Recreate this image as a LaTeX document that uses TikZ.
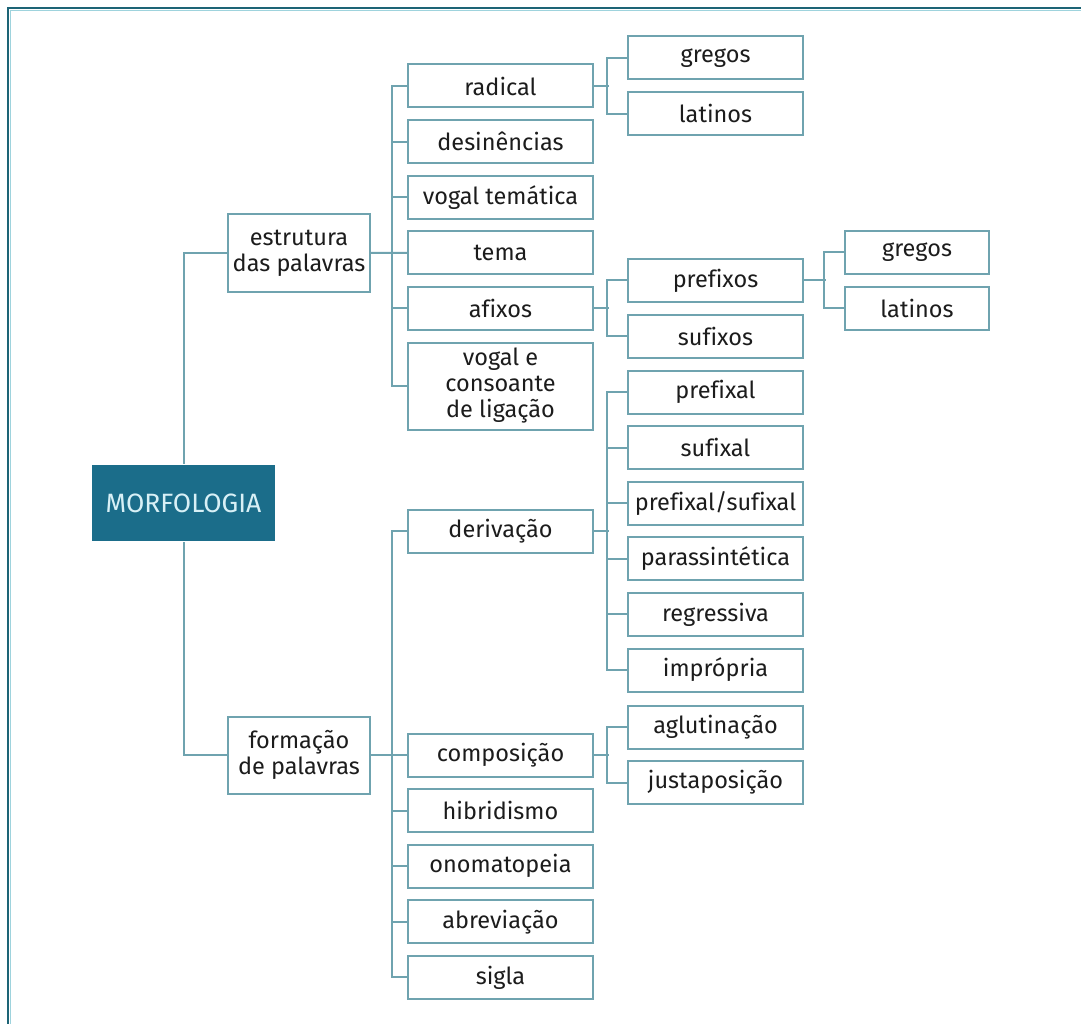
\documentclass[tikz,border=0pt]{standalone}
\usepackage{fontspec}
\setmainfont[Ligatures=NoCommon]{Fira Sans}
\usetikzlibrary{positioning,calc}
\definecolor{boxline}{HTML}{6FA3AF}
\definecolor{morfblue}{HTML}{1B6D8A}
\definecolor{morftext}{HTML}{D8F0F6}
\definecolor{txtgray}{HTML}{1C1C1C}
\definecolor{framedark}{HTML}{1D6476}
\definecolor{framelight}{HTML}{9ED3DD}

\begin{document}
\begin{tikzpicture}[x=1pt, y=-1pt, font=\fontsize{23.5}{26}\selectfont, node distance=10.6pt,
  box/.style={draw=boxline, line width=2pt, fill=white, text=txtgray, align=center, minimum height=43pt, inner sep=3pt},
  wbox/.style={box, minimum width=185pt},
  mbox/.style={box, minimum width=175pt},
  sbox/.style={box, minimum width=144pt},
  link/.style={draw=boxline, line width=2pt}]
  \useasboundingbox (0,0) rectangle (1081,1024);
  % frame
  \draw[framedark, line width=2pt] (8,1024) -- (8,8) -- (1081,8);
  \draw[framelight, line width=1pt] (10.5,1024) -- (10.5,10.5) -- (1081,10.5);
  % root and main branches
  \node[box, fill=morfblue, draw=none, text=morftext, font=\fontsize{26.5}{30}\selectfont, minimum width=183pt, minimum height=76pt] (morf) at (183.5,503) {MORFOLOGIA};
  \node[box, minimum width=142pt, minimum height=77pt] (estr) at (299,253) {estrutura\\das palavras};
  \node[box, minimum width=142pt, minimum height=77pt] (form) at (299,755) {formação\\de palavras};
  % estrutura das palavras
  \node[wbox] (radical) at (500.5,86) {radical};
  \node[wbox, below=of radical] (desin) {desinências};
  \node[wbox, below=of desin] (vtema) {vogal temática};
  \node[wbox, below=of vtema] (tema) {tema};
  \node[wbox, below=of tema] (afixos) {afixos};
  \node[wbox, below=of afixos, minimum height=87pt] (ligacao) {vogal e\\consoante\\de ligação};
  \node[mbox] (gregosA) at (715.5,58) {gregos};
  \node[mbox, below=of gregosA] (latinosA) {latinos};
  \node[mbox] (prefixos) at (715.5,280.5) {prefixos};
  \node[mbox, below=of prefixos] (sufixos) {sufixos};
  \node[sbox] (gregosB) at (917,252.5) {gregos};
  \node[sbox, below=of gregosB] (latinosB) {latinos};
  % formação de palavras
  \node[wbox] (deriv) at (500.5,531) {derivação};
  \node[wbox] (compos) at (500.5,755) {composição};
  \node[wbox, below=of compos] (hibrid) {hibridismo};
  \node[wbox, below=of hibrid] (onomat) {onomatopeia};
  \node[wbox, below=of onomat] (abrev) {abreviação};
  \node[wbox, below=of abrev] (sigla) {sigla};
  \node[mbox] (prefixal) at (715.5,392) {prefixal};
  \node[mbox, below=of prefixal] (sufixal) {sufixal};
  \node[mbox, below=of sufixal] (prefsuf) {prefixal/sufixal};
  \node[mbox, below=of prefsuf] (parass) {parassintética};
  \node[mbox, below=of parass] (regress) {regressiva};
  \node[mbox, below=of regress] (impropria) {imprópria};
  \node[mbox] (aglut) at (715.5,727) {aglutinação};
  \node[mbox, below=of aglut] (justap) {justaposição};
  % links
  \draw[link] (estr.west) -| (morf.north);
  \draw[link] (form.west) -| (morf.south);
  \draw[link] (estr.east) -- (tema.west);
  \draw[link] (radical.west) -- ++(-15,0) |- (ligacao.west);
  \foreach \n in {desin,vtema,afixos} \draw[link] (\n.west) -- ++(-15,0);
  \draw[link] (radical.east) -- ++(15,0);
  \draw[link] (gregosA.west) -- ++(-20,0) |- (latinosA.west);
  \draw[link] (afixos.east) -- ++(15,0);
  \draw[link] (prefixos.west) -- ++(-20,0) |- (sufixos.west);
  \draw[link] (prefixos.east) -- ++(22,0);
  \draw[link] (gregosB.west) -- ++(-20,0) |- (latinosB.west);
  \draw[link] (form.east) -- (compos.west);
  \draw[link] (deriv.west) -- ++(-15,0) |- (sigla.west);
  \foreach \n in {hibrid,onomat,abrev} \draw[link] (\n.west) -- ++(-15,0);
  \draw[link] (deriv.east) -- ++(15,0);
  \draw[link] (prefixal.west) -- ++(-20,0) |- (impropria.west);
  \foreach \n in {sufixal,prefsuf,parass,regress} \draw[link] (\n.west) -- ++(-20,0);
  \draw[link] (compos.east) -- ++(15,0);
  \draw[link] (aglut.west) -- ++(-20,0) |- (justap.west);
\end{tikzpicture}
\end{document}
